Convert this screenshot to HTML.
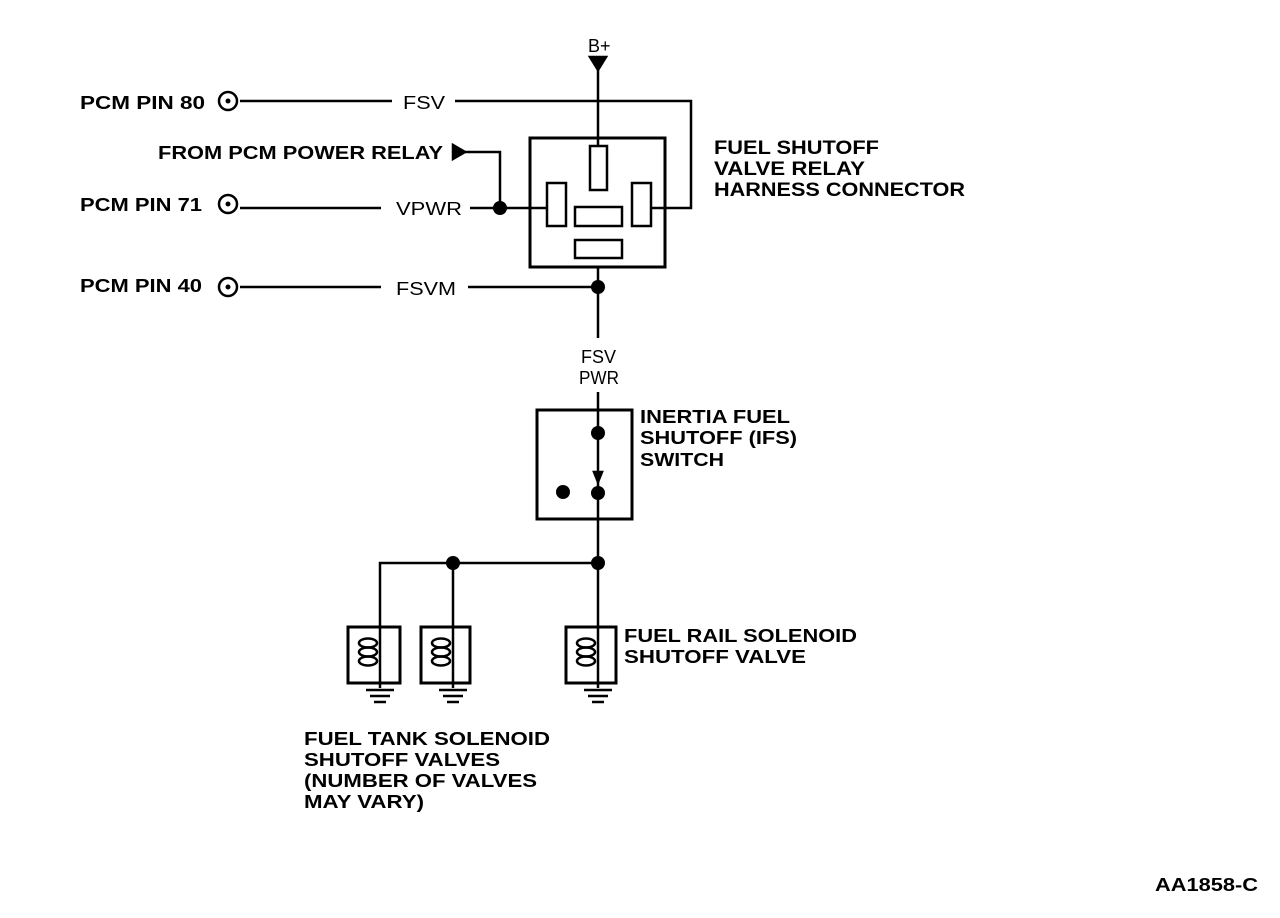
<!DOCTYPE html>
<html><head><meta charset="utf-8"><style>
html,body{margin:0;padding:0;background:#fff;width:1280px;height:918px;overflow:hidden}
svg{display:block}
text{font-family:"Liberation Sans",Arial,sans-serif;font-weight:bold;fill:#000}
</style></head><body>
<svg width="1280" height="918" viewBox="0 0 1280 918" xmlns="http://www.w3.org/2000/svg">
<g stroke="#000" stroke-width="2.5" fill="none">
<!-- B+ -->
<polygon points="590,57 606,57 598,70" fill="#000"/>
<line x1="598" y1="68" x2="598" y2="146"/>
<!-- FSV line -->
<line x1="240" y1="101" x2="392" y2="101"/>
<polyline points="455,101 691,101 691,208 651,208"/>
<!-- PCM power relay -->
<polygon points="453,145 465,152 453,159" fill="#000"/>
<polyline points="463,152 500,152 500,208"/>
<!-- VPWR -->
<line x1="240" y1="208" x2="381" y2="208"/>
<line x1="470" y1="208" x2="547" y2="208"/>
<!-- FSVM -->
<line x1="240" y1="287" x2="381" y2="287"/>
<line x1="468" y1="287" x2="598" y2="287"/>
<!-- relay box -->
<rect x="530" y="138" width="135" height="129" stroke-width="3"/>
<rect x="590" y="146" width="17" height="44"/>
<rect x="547" y="183" width="19" height="43"/>
<rect x="575" y="207" width="47" height="19"/>
<rect x="632" y="183" width="19" height="43"/>
<rect x="575" y="240" width="47" height="18"/>
<!-- vertical down -->
<line x1="598" y1="267" x2="598" y2="338"/>
<line x1="598" y1="392" x2="598" y2="563"/>
<!-- IFS box -->
<rect x="537" y="410" width="95" height="109" stroke-width="3"/>
<polygon points="594,472 602,472 598,482" fill="#000"/>
<!-- distribution -->
<polyline points="380,683 380,563 598,563 598,688"/>
<line x1="453" y1="563" x2="453" y2="688"/>
<line x1="380" y1="683" x2="380" y2="688"/>
<!-- coil boxes -->
<rect x="348" y="627" width="52" height="56" stroke-width="3"/>
<rect x="421" y="627" width="49" height="56" stroke-width="3"/>
<rect x="566" y="627" width="50" height="56" stroke-width="3"/>
<g stroke-width="2.5">
<ellipse cx="368" cy="643" rx="9" ry="4.5"/><ellipse cx="368" cy="652" rx="9" ry="4.5"/><ellipse cx="368" cy="661" rx="9" ry="4.5"/>
<ellipse cx="441" cy="643" rx="9" ry="4.5"/><ellipse cx="441" cy="652" rx="9" ry="4.5"/><ellipse cx="441" cy="661" rx="9" ry="4.5"/>
<ellipse cx="586" cy="643" rx="9" ry="4.5"/><ellipse cx="586" cy="652" rx="9" ry="4.5"/><ellipse cx="586" cy="661" rx="9" ry="4.5"/>
</g>
<!-- grounds -->
<g stroke-width="2.5">
<line x1="366" y1="690" x2="394" y2="690"/><line x1="370" y1="696" x2="390" y2="696"/><line x1="374" y1="702" x2="386" y2="702"/>
<line x1="439" y1="690" x2="467" y2="690"/><line x1="443" y1="696" x2="463" y2="696"/><line x1="447" y1="702" x2="459" y2="702"/>
<line x1="584" y1="690" x2="612" y2="690"/><line x1="588" y1="696" x2="608" y2="696"/><line x1="592" y1="702" x2="604" y2="702"/>
</g>
<!-- pin circles -->
<circle cx="228" cy="101" r="9"/><circle cx="228" cy="204" r="9"/><circle cx="228" cy="287" r="9"/>
</g>
<g fill="#000">
<circle cx="228" cy="101" r="2.5"/><circle cx="228" cy="204" r="2.5"/><circle cx="228" cy="287" r="2.5"/>
<circle cx="500" cy="208" r="7"/>
<circle cx="598" cy="287" r="7"/>
<circle cx="598" cy="433" r="7"/>
<circle cx="598" cy="493" r="7"/>
<circle cx="563" cy="492" r="7"/>
<circle cx="598" cy="563" r="7"/>
<circle cx="453" cy="563" r="7"/>
</g>
<text x="588" y="52" font-size="18" font-weight="normal" style="font-weight:normal">B+</text>
<text x="80" y="109" font-size="18" textLength="125" lengthAdjust="spacingAndGlyphs">PCM PIN 80</text>
<text x="403" y="109" font-size="18" font-weight="normal" style="font-weight:normal" textLength="42" lengthAdjust="spacingAndGlyphs">FSV</text>
<text x="158" y="159" font-size="18" textLength="285" lengthAdjust="spacingAndGlyphs">FROM PCM POWER RELAY</text>
<text x="80" y="211" font-size="18" textLength="122" lengthAdjust="spacingAndGlyphs">PCM PIN 71</text>
<text x="396" y="215" font-size="18" font-weight="normal" style="font-weight:normal" textLength="66" lengthAdjust="spacingAndGlyphs">VPWR</text>
<text x="80" y="292" font-size="18" textLength="122" lengthAdjust="spacingAndGlyphs">PCM PIN 40</text>
<text x="396" y="295" font-size="18" font-weight="normal" style="font-weight:normal" textLength="60" lengthAdjust="spacingAndGlyphs">FSVM</text>
<text x="714" y="154" font-size="19" textLength="165" lengthAdjust="spacingAndGlyphs">FUEL SHUTOFF</text>
<text x="714" y="175" font-size="19" textLength="151" lengthAdjust="spacingAndGlyphs">VALVE RELAY</text>
<text x="714" y="196" font-size="19" textLength="251" lengthAdjust="spacingAndGlyphs">HARNESS CONNECTOR</text>
<text x="581" y="363" font-size="18" font-weight="normal" style="font-weight:normal" textLength="35" lengthAdjust="spacingAndGlyphs">FSV</text>
<text x="579" y="384" font-size="18" font-weight="normal" style="font-weight:normal" textLength="40" lengthAdjust="spacingAndGlyphs">PWR</text>
<text x="640" y="423" font-size="18" textLength="150" lengthAdjust="spacingAndGlyphs">INERTIA FUEL</text>
<text x="640" y="444" font-size="18" textLength="157" lengthAdjust="spacingAndGlyphs">SHUTOFF (IFS)</text>
<text x="640" y="466" font-size="18" textLength="84" lengthAdjust="spacingAndGlyphs">SWITCH</text>
<text x="624" y="642" font-size="18" textLength="233" lengthAdjust="spacingAndGlyphs">FUEL RAIL SOLENOID</text>
<text x="624" y="663" font-size="18" textLength="182" lengthAdjust="spacingAndGlyphs">SHUTOFF VALVE</text>
<text x="304" y="745" font-size="18" textLength="246" lengthAdjust="spacingAndGlyphs">FUEL TANK SOLENOID</text>
<text x="304" y="766" font-size="18" textLength="196" lengthAdjust="spacingAndGlyphs">SHUTOFF VALVES</text>
<text x="304" y="787" font-size="18" textLength="233" lengthAdjust="spacingAndGlyphs">(NUMBER OF VALVES</text>
<text x="304" y="808" font-size="18" textLength="120" lengthAdjust="spacingAndGlyphs">MAY VARY)</text>
<text x="1155" y="891" font-size="18" textLength="103" lengthAdjust="spacingAndGlyphs">AA1858-C</text>
</svg>
</body></html>
